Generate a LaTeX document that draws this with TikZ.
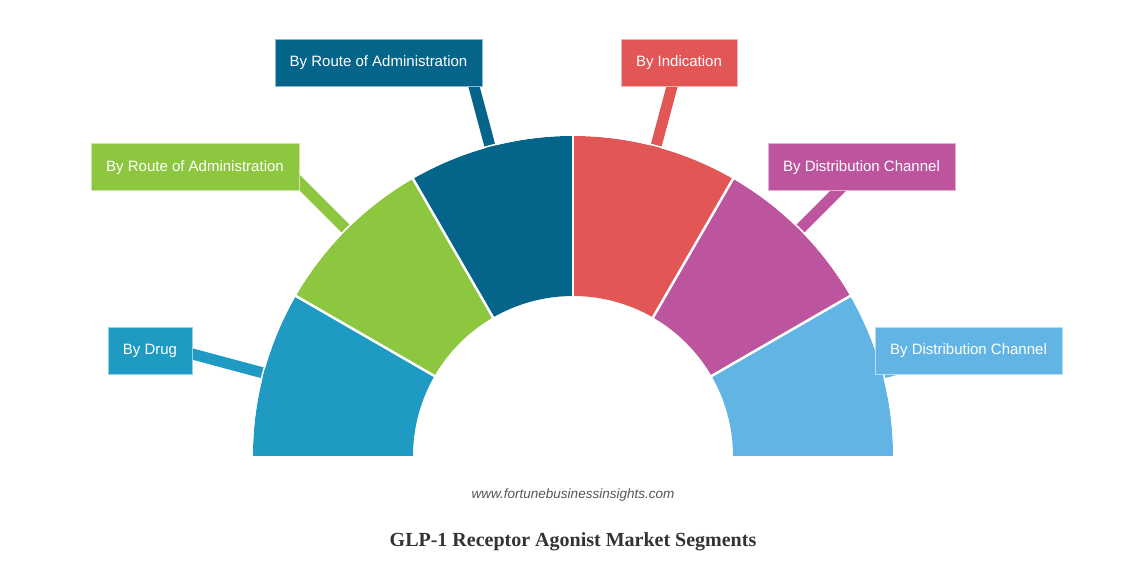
\documentclass[tikz,border=0pt]{standalone}
\usepackage{fontspec}
\setmainfont{Liberation Sans}
\newfontfamily\titlefont{Liberation Serif}
\usetikzlibrary{calc}
\definecolor{cDrug}{HTML}{1E9AC3}
\definecolor{cGreen}{HTML}{8DC63F}
\definecolor{cTeal}{HTML}{05648A}
\definecolor{cRed}{HTML}{E35656}
\definecolor{cMag}{HTML}{BD559E}
\definecolor{cLight}{HTML}{62B4E4}
\definecolor{webgray}{HTML}{555555}
\definecolor{titlegray}{HTML}{333333}
\begin{document}
\begin{tikzpicture}[x=1pt,y=1pt,
  lbl/.style={rectangle, fill=#1, draw=white!55!#1, line width=0.8pt, text=white,
    font=\fontsize{15}{18}\selectfont, minimum height=47pt, inner sep=0pt,
    text height=11pt, text depth=2pt, anchor=center},
  lead/.style={draw=#1, line width=11pt},
  seg/.style={fill=#1},
  sep/.style={draw=white, line width=2.5pt}]
\useasboundingbox (0,0) rectangle (1146,572);
\coordinate (c) at (573,116);
% anchor points of the leaders
\coordinate (p1) at ($(c)+(165:318pt)$); \coordinate (q1) at ($(c)+(165:405pt)$);
\coordinate (p2) at ($(c)+(135:318pt)$); \coordinate (q2) at ($(c)+(135:400pt)$);
\coordinate (p3) at ($(c)+(105:318pt)$); \coordinate (q3) at ($(c)+(105:400pt)$);
\coordinate (p4) at ($(c)+(75:318pt)$);  \coordinate (q4) at ($(c)+(75:400pt)$);
\coordinate (p5) at ($(c)+(45:318pt)$);  \coordinate (q5) at ($(c)+(45:400pt)$);
\coordinate (p6) at ($(c)+(15:318pt)$);  \coordinate (q6) at ($(c)+(15:400pt)$);
% leaders
\draw[lead=cDrug]  (p1) -- (q1);
\draw[lead=cGreen] (p2) -- (q2);
\draw[lead=cTeal]  (p3) -- (q3);
\draw[lead=cRed]   (p4) -- (q4);
\draw[lead=cMag]   (p5) -- (q5);
\draw[lead=cLight] (p6) -- (q6);
% segments
\foreach \a/\col in {150/cDrug, 120/cGreen, 90/cTeal, 60/cRed, 30/cMag, 0/cLight}{
  \path[seg=\col] ($(c)+(\a:320pt)$) arc[start angle=\a, end angle=\a+30, radius=320pt]
    -- ($(c)+({\a+30}:160pt)$) arc[start angle=\a+30, end angle=\a, radius=160pt] -- cycle;
}
% white separators
\foreach \a in {30,60,90,120,150}{
  \draw[sep] ($(c)+(\a:158pt)$) -- ($(c)+(\a:322pt)$);
}
\draw[draw=white, line width=1.5pt] ($(c)+(0:321pt)$) arc[start angle=0, end angle=180, radius=321pt];
% label boxes
\node[lbl=cDrug,  minimum width=84pt]  (b1) at (150,221.5) {By Drug};
\node[lbl=cGreen, minimum width=208pt] (b2) at (195,405)   {By Route of Administration};
\node[lbl=cTeal,  minimum width=207pt] (b3) at (378.5,509.5) {By Route of Administration};
\node[lbl=cRed,   minimum width=116pt] (b4) at (679,509.5) {By Indication};
\node[lbl=cMag,   minimum width=187pt] (b5) at (861.5,405) {By Distribution Channel};
\node[lbl=cLight, minimum width=187pt] (b6) at (968.5,221.5) {By Distribution Channel};
% texts
\node[text=webgray, font=\fontsize{13.5}{16}\selectfont\itshape] (web) at (573,77) {www.fortunebusinessinsights.com};
\node[text=titlegray, font=\titlefont\bfseries\fontsize{20}{24}\selectfont] (title) at (573,30.5) {GLP-1 Receptor Agonist Market Segments};
\end{tikzpicture}
\end{document}
